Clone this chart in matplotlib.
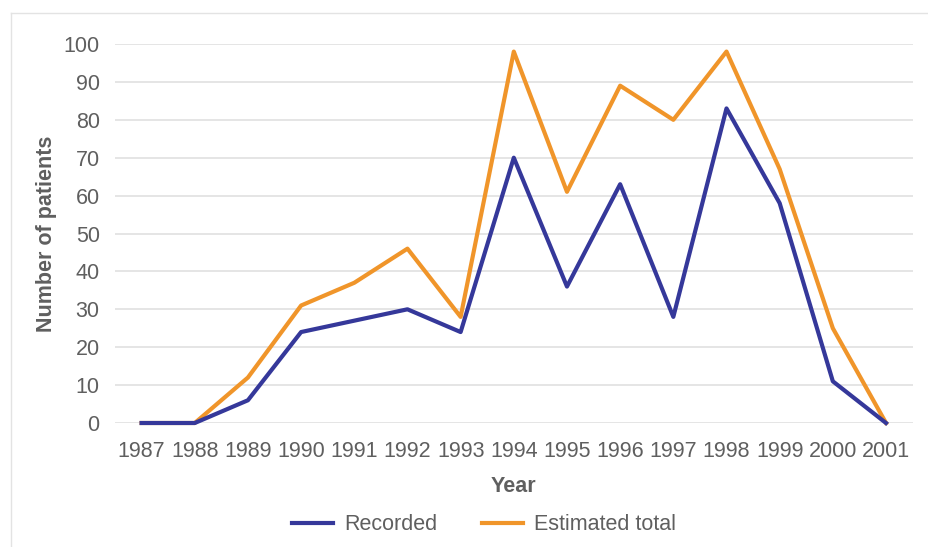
import matplotlib.pyplot as plt
from matplotlib.lines import Line2D

years = ['1987', '1988', '1989', '1990', '1991', '1992', '1993', '1994',
         '1995', '1996', '1997', '1998', '1999', '2000', '2001']
recorded = [0, 0, 6, 24, 27, 30, 24, 70, 36, 63, 28, 83, 58, 11, 0]
estimated = [0, 0, 12, 31, 37, 46, 28, 98, 61, 89, 80, 98, 67, 25, 0]

BLUE = '#35389a'
ORANGE = '#f0952a'
TEXT = '#5f5f5f'
FS = 15.5

plt.rcParams['font.family'] = ['Liberation Sans', 'DejaVu Sans']

fig = plt.figure(figsize=(9.29, 5.47), dpi=100)
ax = fig.add_axes([115 / 929, 124 / 547, (912.6 - 115) / 929, (503 - 124) / 547])

x = range(len(years))
ax.plot(x, recorded, color=BLUE, lw=3, label='Recorded', clip_on=False, zorder=3)
ax.plot(x, estimated, color=ORANGE, lw=3, label='Estimated total', clip_on=False, zorder=2)

ax.set_xlim(-0.5, len(years) - 0.5)
ax.set_ylim(0, 100)
ax.set_yticks(range(0, 101, 10))
ax.set_xticks(list(x))
ax.set_xticklabels(years)
ax.grid(axis='y', color='#e0e0e0', lw=1.2)
ax.set_axisbelow(True)
for s in ax.spines.values():
    s.set_visible(False)
ax.tick_params(length=0, labelsize=FS, colors=TEXT)
ax.tick_params(axis='y', pad=11)
ax.tick_params(axis='x', pad=13)

ax.set_xlabel('Year', fontsize=FS, fontweight='bold', color=TEXT, labelpad=10)
ax.set_ylabel('Number of patients', fontsize=FS, fontweight='bold', color=TEXT, labelpad=5)

fig.legend(loc='center', bbox_to_anchor=(484 / 929, 1 - 525 / 547), ncol=2,
           frameon=False, fontsize=FS, labelcolor=TEXT, handlelength=1.9,
           columnspacing=2.1, handletextpad=0.5)

# light frame around the figure
fig.add_artist(Line2D([11 / 929, 1], [1 - 13 / 547] * 2, color='#e3e3e3', lw=1))
fig.add_artist(Line2D([11 / 929] * 2, [0, 1 - 13 / 547], color='#e3e3e3', lw=1))

fig.savefig('out.png', dpi=100)
